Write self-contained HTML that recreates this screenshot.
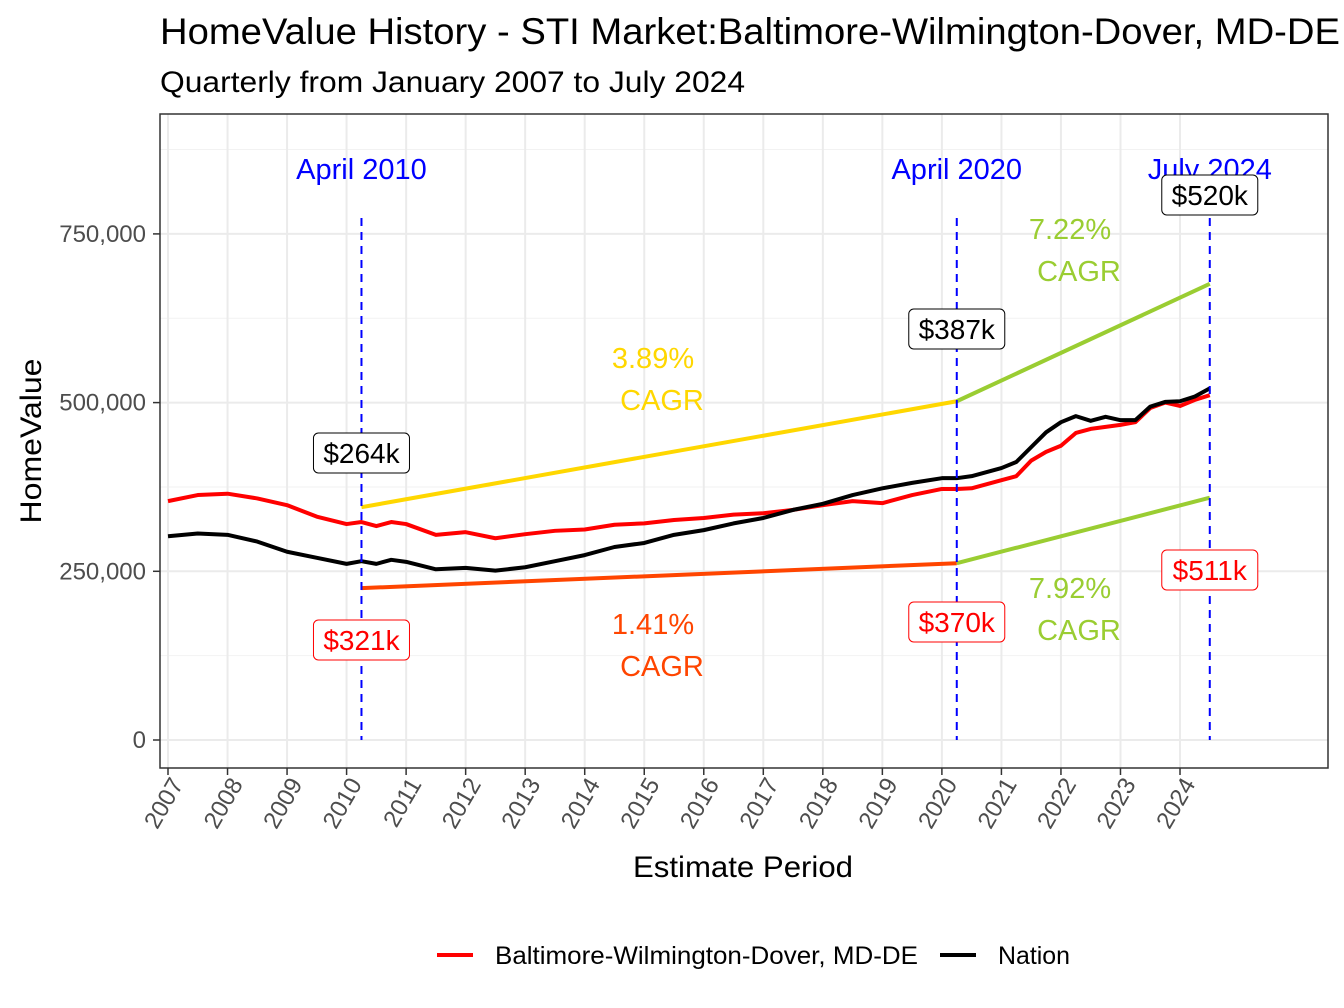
<!DOCTYPE html>
<html><head><meta charset="utf-8"><style>
body{margin:0;background:#fff;}
svg{display:block;font-family:"Liberation Sans",Arial,sans-serif;}
</style></head><body>
<svg id="chart" width="1344" height="1008" viewBox="0 0 1344 1008">
<text x="160" y="44" font-size="37" textLength="1180" lengthAdjust="spacingAndGlyphs" fill="#000">HomeValue History - STI Market:Baltimore-Wilmington-Dover, MD-DE</text>
<text x="160" y="92" font-size="30" textLength="585" lengthAdjust="spacingAndGlyphs" fill="#000">Quarterly from January 2007 to July 2024</text>
<rect x="160" y="114" width="1168" height="654" fill="#fff"/>
<g id="grid"></g>
<g id="series"></g>
<g id="annot"></g>
<rect x="160" y="114" width="1168" height="654" fill="none" stroke="#333" stroke-width="1.5"/>
<g id="axes"></g>
<text x="743" y="877" font-size="30" text-anchor="middle" textLength="220" lengthAdjust="spacingAndGlyphs" fill="#000">Estimate Period</text>
<text transform="translate(41,441) rotate(-90)" font-size="30" text-anchor="middle" textLength="165" lengthAdjust="spacingAndGlyphs" fill="#000">HomeValue</text>
<g>
<g><line x1="437" y1="955" x2="473" y2="955" stroke="#ff0000" stroke-width="4"/><text x="495" y="964" font-size="25" textLength="423" lengthAdjust="spacingAndGlyphs">Baltimore-Wilmington-Dover, MD-DE</text></g>
<g><line x1="940" y1="955" x2="976" y2="955" stroke="#000" stroke-width="4"/><text x="998" y="964" font-size="25" textLength="72" lengthAdjust="spacingAndGlyphs">Nation</text></g>
</g>
</svg>
<script>
const times=[2007,2007.5,2008,2008.5,2009,2009.5,2010,2010.25,2010.5,2010.75,2011,2011.5,2012,2012.5,2013,2013.5,2014,2014.5,2015,2015.5,2016,2016.5,2017,2017.5,2018,2018.5,2019,2019.5,2020,2020.25,2020.5,2021,2021.25,2021.5,2021.75,2022,2022.25,2022.5,2022.75,2023,2023.25,2023.5,2023.75,2024,2024.25,2024.5];
const marketValues=[354,363,365,358,348,331,320,323,317,323,320,304,308,299,305,310,312,319,321,326,329,334,336,341,348,354,351,363,372,372,373,385,391,414,427,436,455,461,464,467,471,492,500,495,504,511];
const nationValues=[302,306,304,294,279,270,261,265,261,267,264,253,255,251,256,265,274,286,292,304,311,321,329,341,350,363,373,381,388,388,391,403,412,434,456,471,480,473,479,474,474,494,501,502,509,521];
const yTicks=[0,250000,500000,750000];
const yTickLabels=["0","250,000","500,000","750,000"];
const xYears=[2007,2008,2009,2010,2011,2012,2013,2014,2015,2016,2017,2018,2019,2020,2021,2022,2023,2024];
const markerTimes=[2010.25,2020.25,2024.5];
const markerLabels=["April 2010","April 2020","July 2024"];
const nationMarkerLabels=["$264k","$387k","$520k"];
const marketMarkerLabels=["$321k","$370k","$511k"];
const nationCagrValues=[345,502,676];
const marketCagrValues=[225,262,359];
const cagrTexts=["3.89%","7.22%","1.41%","7.92%"];

const X=t=>168+(t-2007)*59.53;
const Y=v=>740-v/250000*168.7;
const Yk=v=>Y(v*1000);
const NS="http://www.w3.org/2000/svg";
function mk(tag,attrs,parent){const e=document.createElementNS(NS,tag);for(const k in attrs)e.setAttribute(k,attrs[k]);parent.appendChild(e);return e;}
const grid=document.getElementById('grid'),series=document.getElementById('series'),annot=document.getElementById('annot'),axes=document.getElementById('axes');

for(let v=125000;v<1000000;v+=250000){const y=Y(v);if(y<114)continue;const l=mk('line',{x1:160,x2:1328,y1:y,y2:y,stroke:'#f2f2f2','stroke-width':1},grid);

}
yTicks.forEach((v,i)=>{const y=Y(v);
const l=mk('line',{x1:160,x2:1328,y1:y,y2:y,stroke:'#ebebeb','stroke-width':2},grid);


const tk=mk('line',{x1:153,x2:160,y1:y,y2:y,stroke:'#333','stroke-width':1.5},axes);


const t=mk('text',{x:146,y:y+8,'font-size':24,'text-anchor':'end',fill:'#4d4d4d'},axes);t.textContent=yTickLabels[i];

});
xYears.forEach(yr=>{const x=X(yr);
const l=mk('line',{x1:x,x2:x,y1:114,y2:768,stroke:'#ebebeb','stroke-width':2},grid);


const tk=mk('line',{x1:x,x2:x,y1:768,y2:775,stroke:'#333','stroke-width':1.5},axes);


const t=mk('text',{transform:`translate(${x+16},784) rotate(-60)`,'font-size':24,'text-anchor':'end',fill:'#4d4d4d'},axes);t.textContent=yr;

});

function seg(vals,i0,color,name){const l=mk('line',{x1:X(markerTimes[i0]),y1:Yk(vals[i0]),x2:X(markerTimes[i0+1]),y2:Yk(vals[i0+1]),stroke:color,'stroke-width':4},series);

}
seg(nationCagrValues,0,'#ffd700','cagr-line-nation-2010-2020');
seg(nationCagrValues,1,'#9acd32','cagr-line-nation-2020-2024');
seg(marketCagrValues,0,'#ff4500','cagr-line-market-2010-2020');
seg(marketCagrValues,1,'#9acd32','cagr-line-market-2020-2024');

const pm=mk('polyline',{points:times.map((t,i)=>X(t)+','+Yk(marketValues[i])).join(' '),fill:'none',stroke:'#ff0000','stroke-width':4,'stroke-linejoin':'round'},series);


const pn=mk('polyline',{points:times.map((t,i)=>X(t)+','+Yk(nationValues[i])).join(' '),fill:'none',stroke:'#000','stroke-width':4,'stroke-linejoin':'round'},series);



const nLabY=[453,329,195],mLabY=[640,622,570];
function box(x,y,txt,color,name){const w=96,h=40;
const g=mk('g',{},annot);


mk('rect',{x:x-w/2,y:y-h/2,width:w,height:h,rx:5,fill:'#fff',stroke:color,'stroke-width':1},g);
const t=mk('text',{x:x,y:y+10,'font-size':28,'text-anchor':'middle',fill:color},g);t.textContent=txt;}
markerTimes.forEach((t,i)=>{const x=X(t);
const l=mk('line',{x1:x,x2:x,y1:218,y2:740,stroke:'#0000ff','stroke-width':2,'stroke-dasharray':'8,6'},annot);


const tx=mk('text',{x:x,y:179,'font-size':29,'text-anchor':'middle',fill:'#0000ff'},annot);tx.textContent=markerLabels[i];


box(x,nLabY[i],nationMarkerLabels[i],'#000','nation-value-label');
box(x,mLabY[i],marketMarkerLabels[i],'#ff0000','market-value-label');});

const cagrPos=[[653,358,'#ffd700'],[1070,229,'#9acd32'],[653,624,'#ff4500'],[1070,588,'#9acd32']];
cagrTexts.forEach((s,i)=>{const [x,y,c]=cagrPos[i];
const t1=mk('text',{x:x,y:y+10,'font-size':29,'text-anchor':'middle',fill:c},annot);t1.textContent=s;


const t2=mk('text',{x:x+9,y:y+52,'font-size':29,'text-anchor':'middle',fill:c},annot);t2.textContent='CAGR';

});
</script>
</body></html>
